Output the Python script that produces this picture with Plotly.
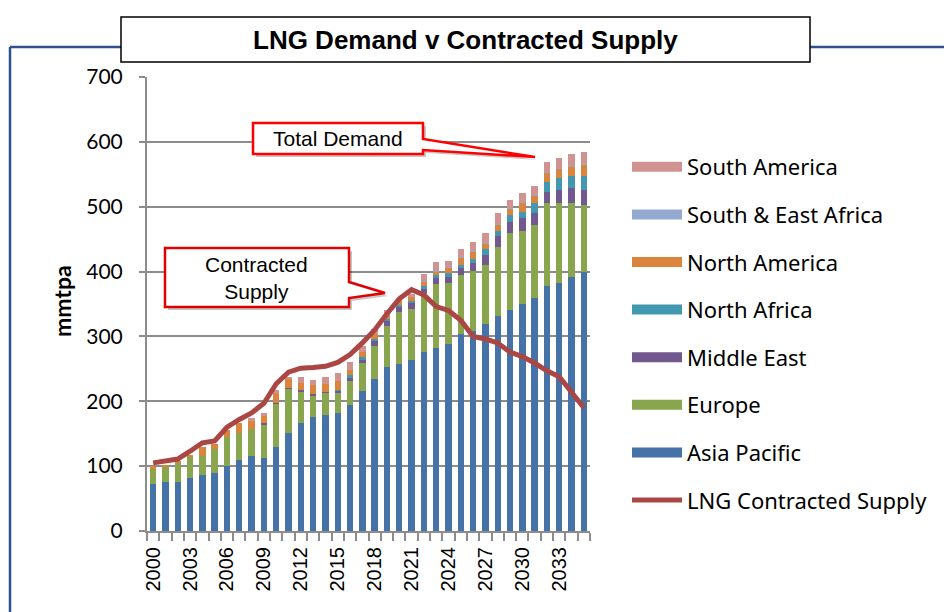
import plotly.graph_objects as go

years = list(range(2000, 2036))

asia_pacific = [72, 75, 75, 81, 87, 90, 100, 109, 115, 112, 129, 151, 167, 176, 179, 182, 194, 216,
                234, 253, 258, 264, 276, 282, 288, 304, 309, 319, 331, 340, 350, 359, 377, 383, 392, 399]
europe = [25, 25, 31, 34, 28, 37, 45, 42, 42, 52, 67, 68, 48, 33, 34, 31, 37, 43,
          51, 63, 79, 79, 91, 99, 95, 91, 92, 91, 107, 120, 113, 113, 128, 122, 113, 104]
middle_east = [0, 0, 0, 0, 0, 0, 0, 0, 0, 2, 2, 2, 2, 2, 2, 3, 6, 6,
               9, 9, 9, 10, 6, 9, 9, 12, 12, 16, 17, 17, 20, 18, 18, 21, 24, 23]
north_africa = [0, 0, 0, 0, 0, 0, 0, 0, 0, 0, 0, 0, 0, 0, 0, 2, 3, 3,
                2, 2, 2, 2, 4, 5, 6, 3, 6, 9, 8, 10, 9, 15, 15, 19, 19, 22]
north_america = [3, 2, 1, 2, 15, 7, 10, 15, 12, 12, 15, 13, 11, 14, 11, 13, 9, 8,
                 7, 6, 6, 6, 7, 5, 8, 11, 12, 8, 10, 10, 15, 12, 14, 14, 14, 17]
south_east_africa = [0, 0, 0, 0, 0, 0, 0, 0, 0, 0, 0, 0, 0, 0, 0, 0, 0, 0,
                     0, 0, 0, 0, 1, 1, 1, 1, 1, 1, 1, 1, 1, 1, 1, 1, 1, 1]
south_america = [0, 0, 0, 0, 0, 0, 0, 0, 5, 4, 5, 4, 9, 8, 11, 12, 12, 10,
                 8, 7, 4, 5, 11, 13, 10, 13, 13, 15, 17, 13, 13, 14, 16, 15, 18, 19]
contracted_supply = [105, 108, 111, 123, 136, 139, 160, 172, 182, 197, 227, 245, 251, 252, 254, 260, 272, 290,
                     310, 335, 358, 372, 364, 346, 340, 325, 300, 296, 290, 276, 269, 259, 247, 238, 215, 190]

x_tick_years = list(range(2000, 2036, 3))
y_ticks = [0, 100, 200, 300, 400, 500, 600, 700]

series = [
    ("Asia Pacific", asia_pacific, "#4572A7", 7),
    ("Europe", europe, "#89A54E", 6),
    ("Middle East", middle_east, "#71588F", 5),
    ("North Africa", north_africa, "#4198AF", 4),
    ("North America", north_america, "#DB843D", 3),
    ("South & East Africa", south_east_africa, "#93A9CF", 2),
    ("South America", south_america, "#D19392", 1),
]

fig = go.Figure()
for name, vals, color, rank in series:
    fig.add_trace(go.Bar(x=years, y=vals, name=name, marker=dict(color=color, line=dict(width=0)),
                         legendgroup=name, showlegend=False))
fig.add_trace(go.Scatter(x=years, y=contracted_supply, name="LNG Contracted Supply", mode="lines",
                         line=dict(color="#AA4643", width=5), legendgroup="supply", legendrank=8))
# legend swatches (wide rectangles like the original)
for name, vals, color, rank in series:
    fig.add_trace(go.Scatter(x=[None], y=[None], name=name, mode="lines",
                             line=dict(color=color, width=14), legendgroup=name, legendrank=rank))

# plot area in reference-page pixels (page has an 8px body margin)
OFF = 8
L, R, T, B = 147, 590, 77, 531
W, H = 952 - OFF, 612 - OFF


def px(x):
    return (x - L) / (R - L)


def py(y):
    return (B - y) / (B - T)


shapes = []
# outer blue frame
shapes.append(dict(type="line", xref="paper", yref="paper", x0=px(10), x1=px(10), y0=py(47), y1=py(640),
                   line=dict(color="#2F4F8F", width=2.5)))
shapes.append(dict(type="line", xref="paper", yref="paper", x0=px(10), x1=px(980), y0=py(47), y1=py(47),
                   line=dict(color="#2F4F8F", width=2.5)))
# title box
shapes.append(dict(type="rect", xref="paper", yref="paper", x0=px(121), x1=px(810), y0=py(17), y1=py(62),
                   fillcolor="white", line=dict(color="black", width=1.5)))


def callout(x0, y0, x1, y1, wy0, wy1, tipx, tipy):
    pts = [(x0, y0), (x1, y0), (x1, wy0), (tipx, tipy), (x1, wy1), (x1, y1), (x0, y1)]
    return "M " + " L ".join(f"{px(a):.4f},{py(b):.4f}" for a, b in pts) + " Z"


shapes.append(dict(type="path", xref="paper", yref="paper",
                   path=callout(168, 251, 352, 310, 285, 301, 388, 296),
                   fillcolor="rgba(0,0,0,0.22)", line=dict(width=0)))
shapes.append(dict(type="path", xref="paper", yref="paper",
                   path=callout(165, 248, 349, 307, 282, 298, 385, 293),
                   fillcolor="white", line=dict(color="#E00000", width=2.5)))
shapes.append(dict(type="path", xref="paper", yref="paper",
                   path=callout(256, 126, 426, 157, 143, 153, 538, 160),
                   fillcolor="rgba(0,0,0,0.22)", line=dict(width=0)))
shapes.append(dict(type="path", xref="paper", yref="paper",
                   path=callout(253, 123, 423, 154, 139, 150, 535, 157),
                   fillcolor="white", line=dict(color="#FF0000", width=2.5)))

annotations = [
    dict(text="<b>LNG Demand v Contracted Supply</b>", xref="paper", yref="paper", x=px(465), y=py(40),
         xanchor="center", yanchor="middle", showarrow=False,
         font=dict(family="Liberation Sans, Arial", size=26, color="black")),
    dict(text="<b>mmtpa</b>", xref="paper", yref="paper", x=px(62), y=py(301), textangle=-90,
         xanchor="center", yanchor="middle", showarrow=False,
         font=dict(family="Lato, Noto Sans", size=23, color="black")),
    dict(text="Total Demand", xref="paper", yref="paper", x=px(338), y=py(139),
         xanchor="center", yanchor="middle", showarrow=False,
         font=dict(family="Liberation Sans, Arial", size=21, color="black")),
    dict(text="Contracted<br>Supply", xref="paper", yref="paper", x=px(256), y=py(278),
         xanchor="center", yanchor="middle", showarrow=False,
         font=dict(family="Liberation Sans, Arial", size=21, color="black")),
]

fig.update_layout(
    width=W, height=H,
    margin=dict(l=L - OFF, r=952 - R, t=T - OFF, b=612 - B, pad=0),
    paper_bgcolor="white", plot_bgcolor="white",
    barmode="stack", bargap=0.48,
    showlegend=True,
    legend=dict(x=px(627), y=py(146), xanchor="left", yanchor="top", traceorder="grouped",
                tracegroupgap=16, font=dict(family="Noto Sans, Lato", size=22, color="black"),
                itemwidth=50, bgcolor="rgba(0,0,0,0)"),
    shapes=shapes,
    annotations=annotations,
)

fig.update_xaxes(range=[1999.5, 2035.5], tickmode="array", tickvals=x_tick_years,
                 ticktext=[str(y) for y in x_tick_years], tickangle=-90, ticks="",
                 tickfont=dict(family="Liberation Sans, Arial", size=20, color="black"),
                 showgrid=False, zeroline=False, showline=True, linecolor="#8C8C8C", linewidth=2,
                 minor=dict(tick0=1999.5, dtick=1, ticks="outside", ticklen=8, tickcolor="#8C8C8C",
                            tickwidth=1.5, showgrid=False),
                 ticklabelstandoff=6)
fig.update_yaxes(range=[0, 700], tickmode="array", tickvals=y_ticks, ticks="outside", ticklen=6,
                 tickcolor="#8C8C8C", tickwidth=1.5,
                 tickfont=dict(family="Lato, Noto Sans", size=21, color="black"),
                 showgrid=True, gridcolor="#8C8C8C", gridwidth=2, zeroline=False,
                 showline=True, linecolor="#8C8C8C", linewidth=2, ticklabelstandoff=12)

fig.write_html("out.html")
